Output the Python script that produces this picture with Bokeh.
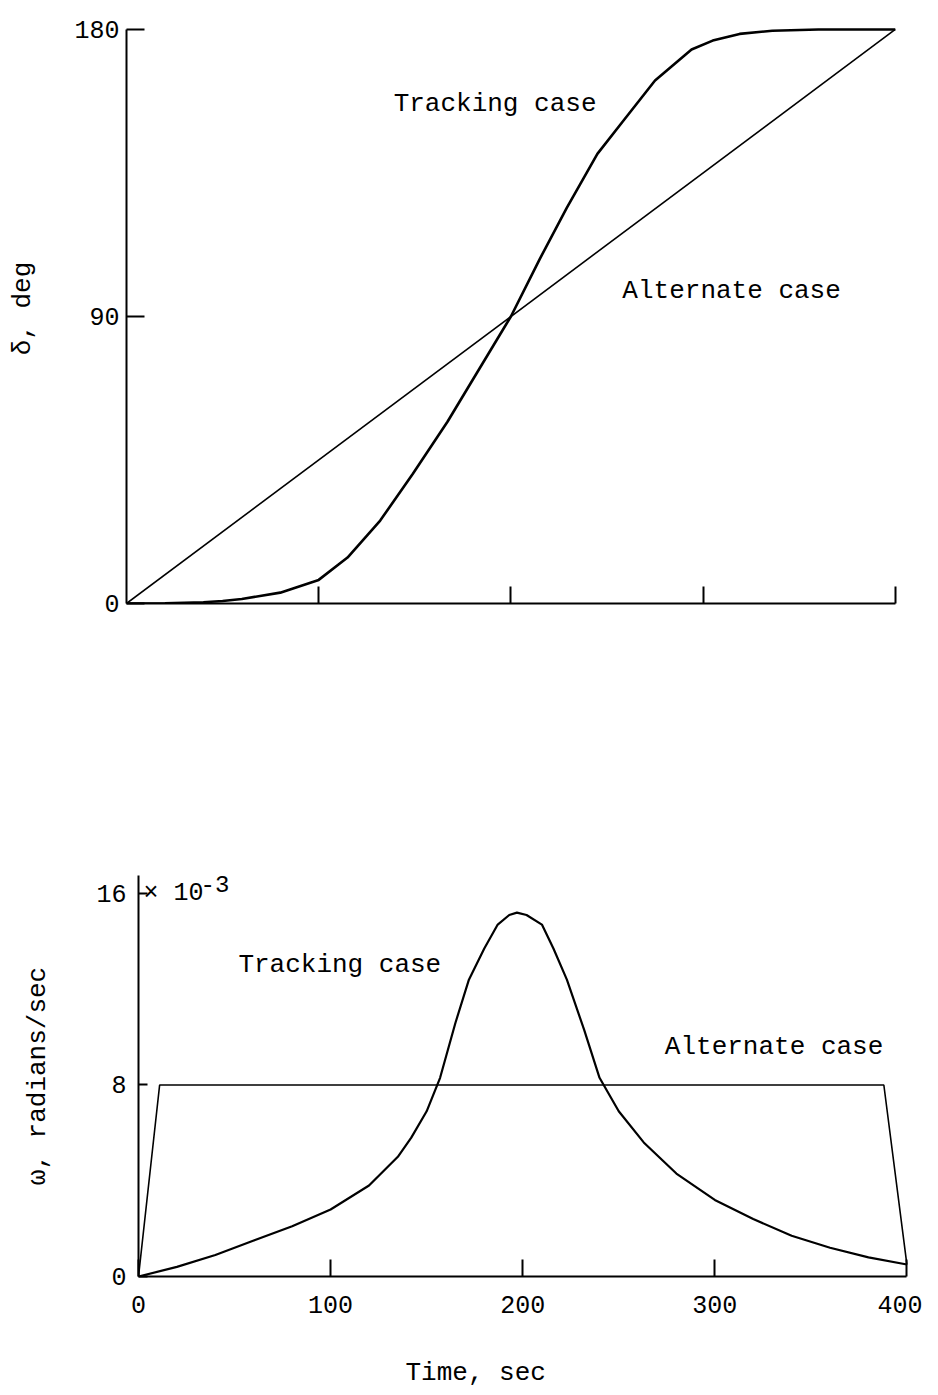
from bokeh.plotting import figure
from bokeh.layouts import column, row
from bokeh.models import Label, FixedTicker, Range1d, Title, LinearAxis
from bokeh.embed import file_html
from bokeh.resources import INLINE

FONT = "Liberation Mono"

# ---- data (top panel: delta, deg) ----
t_track_top = [0, 20, 40, 50, 60, 80, 100, 115, 132, 149, 167, 180, 200, 215, 229, 245, 258, 275, 294, 305, 319, 336, 360, 380, 400]
delta_track = [0, 0.1, 0.4, 0.8, 1.4, 3.4, 7.4, 14.4, 26, 40.7, 57, 70, 90, 108, 124, 141, 151, 164, 173.7, 176.5, 178.6, 179.6, 180, 180, 180]
t_alt_top = [0, 400]
delta_alt = [0, 180]

# ---- data (bottom panel: omega, 1e-3 rad/sec) ----
t_track_bot = [0, 20, 40, 60, 80, 100, 120, 135, 142, 150, 157, 165, 172, 180, 187, 193, 197, 202, 210, 216, 223, 232, 240, 250, 263, 280, 300, 320, 340, 360, 380, 400]
omega_track = [0, 0.4, 0.9, 1.5, 2.1, 2.8, 3.8, 5.0, 5.8, 6.9, 8.3, 10.6, 12.4, 13.7, 14.7, 15.1, 15.2, 15.1, 14.7, 13.7, 12.4, 10.3, 8.3, 6.9, 5.6, 4.3, 3.2, 2.4, 1.7, 1.2, 0.8, 0.5]
t_alt_bot = [0, 11, 388, 400]
omega_alt = [0, 8.0, 8.0, 0.5]

top_y_ticks = [0, 90, 180]
top_x_ticks = [100, 200, 300, 400]
bot_y_ticks = [0, 8, 16]
bot_x_ticks = [0, 100, 200, 300, 400]


def style(p):
    p.grid.visible = False
    p.outline_line_color = None
    p.background_fill_color = "white"
    p.border_fill_color = "white"
    for ax in (p.xaxis[0], p.yaxis[0]):
        ax.axis_line_width = 2
        ax.major_tick_line_width = 2
        ax.minor_tick_line_color = None
        ax.major_tick_out = 0
        ax.major_label_text_font = FONT
        ax.major_label_text_font_size = "25px"
        ax.major_label_text_color = "black"
        ax.axis_label_text_font = FONT
        ax.axis_label_text_font_style = "normal"
        ax.axis_label_text_font_size = "26px"
        ax.axis_label_text_color = "black"


# ---------------- top panel ----------------
p1 = figure(width=922, height=648, x_range=Range1d(0, 410), y_range=Range1d(0, 185),
            output_backend="svg", toolbar_location=None,
            min_border_left=126, min_border_right=8, min_border_top=13, min_border_bottom=45)
style(p1)
p1.line(t_alt_top, delta_alt, line_color="black", line_width=1.6)
p1.line(t_track_top, delta_track, line_color="black", line_width=2.6)

p1.xaxis.ticker = FixedTicker(ticks=top_x_ticks)
p1.xaxis.bounds = (0, 400)
p1.xaxis.major_tick_in = 17
p1.xaxis.major_label_overrides = {v: "" for v in top_x_ticks}
p1.yaxis.ticker = FixedTicker(ticks=top_y_ticks)
p1.yaxis.bounds = (0, 180)
p1.yaxis.major_tick_in = 18
p1.yaxis.major_label_standoff = 7
p1.yaxis.axis_label = "δ, deg"
p1.yaxis.axis_label_standoff = 33

p1.add_layout(Label(x=139, y=156.7, text="Tracking case", text_font=FONT, text_font_size="26px",
                    text_baseline="middle", text_color="black"))
p1.add_layout(Label(x=258, y=98, text="Alternate case", text_font=FONT, text_font_size="26px",
                    text_baseline="middle", text_color="black"))

# ---------------- bottom panel ----------------
p2 = figure(width=922, height=747, x_range=Range1d(0, 405), y_range=Range1d(0, 16.75),
            output_backend="svg", toolbar_location=None,
            min_border_left=138, min_border_right=6, min_border_top=227, min_border_bottom=119)
style(p2)
p2.line(t_alt_bot, omega_alt, line_color="black", line_width=1.6)
p2.line(t_track_bot, omega_track, line_color="black", line_width=2.2)

p2.xaxis.ticker = FixedTicker(ticks=bot_x_ticks)
p2.xaxis.bounds = (0, 400)
p2.xaxis.major_tick_in = 17
p2.xaxis.major_label_standoff = 19
p2.yaxis.ticker = FixedTicker(ticks=bot_y_ticks)
p2.yaxis.major_tick_in = 9
p2.yaxis.major_label_standoff = 12
p2.yaxis.axis_label = "ω, radians/sec"
p2.yaxis.axis_label_standoff = 40

# blank spacing band between the tick labels and the "Time, sec" caption
gap_axis = LinearAxis(ticker=FixedTicker(ticks=[200]), major_label_overrides={200: ""},
                      axis_line_color=None, major_tick_line_color=None, minor_tick_line_color=None,
                      major_tick_in=0, major_tick_out=40, major_label_standoff=0,
                      major_label_text_font_size="1px")
p2.add_layout(gap_axis, "below")

p2.add_layout(Label(x=0, y=16, x_offset=5, text="× 10", text_font=FONT, text_font_size="25px",
                    text_baseline="middle", text_color="black"))
p2.add_layout(Label(x=0, y=16, x_offset=62, y_offset=9, text="-3", text_font=FONT, text_font_size="24px",
                    text_baseline="middle", text_color="black"))
p2.add_layout(Label(x=52, y=13.0, text="Tracking case", text_font=FONT, text_font_size="26px",
                    text_baseline="middle", text_color="black"))
p2.add_layout(Label(x=274, y=9.57, text="Alternate case", text_font=FONT, text_font_size="26px",
                    text_baseline="middle", text_color="black"))
p2.add_layout(Title(text="Time, sec", align="left", offset=267, standoff=0,
                    text_font=FONT, text_font_size="26px", text_font_style="normal", text_color="black"), "below")

layout = column(row(p1), row(p2), spacing=0)
open("out.html", "w").write(file_html(layout, INLINE))
